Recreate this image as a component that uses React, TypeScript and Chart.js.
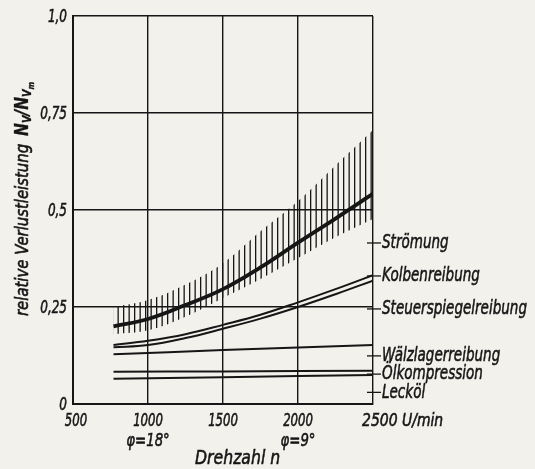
import React, { useEffect, useRef } from "react";
import { Chart, registerables } from "chart.js";

Chart.register(...registerables);

// ---- data ----
const speedTicks = [500, 1000, 1500, 2000, 2500];
const speedTickLabels = ["500", "1000", "1500", "2000", "2500 U/min"];
const angleLabels = ["", "φ=18°", "", "φ=9°", ""];
const lossTicks = [0, 0.25, 0.5, 0.75, 1.0];
const lossTickLabels = ["0", "0,25", "0,5", "0,75", "1,0"];

const curveSpeeds = [770, 1000, 1250, 1500, 1750, 2000, 2250, 2500];
const stroemung = [0.2, 0.219, 0.255, 0.296, 0.352, 0.416, 0.478, 0.542];
const stroemungUpper = [0.25, 0.268, 0.308, 0.363, 0.445, 0.523, 0.615, 0.706];
const stroemungLower = [0.18, 0.19, 0.225, 0.273, 0.322, 0.376, 0.43, 0.477];
const kolbenreibung = [0.152, 0.163, 0.18, 0.204, 0.23, 0.262, 0.296, 0.332];
const steuerspiegelreibung = [0.146, 0.152, 0.17, 0.194, 0.22, 0.25, 0.283, 0.318];

const lineSpeeds = [770, 1500, 2500];
const waelzlagerreibung = [0.128, 0.139, 0.152];
const oelkompression = [0.083, 0.084, 0.086];
const leckoel = [0.065, 0.069, 0.075];

const labelNames = ["Strömung", "Kolbenreibung", "Steuerspiegelreibung", "Wälzlagerreibung", "Ölkompression", "Lecköl"];
const labelValues = [0.415, 0.33, 0.245, 0.124, 0.077, 0.03];

const INK = "#161616";
const PAPER = "#f2f1ec";
const FONT = "'DejaVu Sans', sans-serif";
const STROKE = 0.6;

const pts = (xs: number[], ys: number[]) => xs.map((x, i) => ({ x, y: ys[i] }));

function makeHatch(): CanvasPattern | string {
  const c = document.createElement("canvas");
  c.width = 11;
  c.height = 4;
  const g = c.getContext("2d");
  if (!g) return INK;
  g.fillStyle = INK;
  g.fillRect(2, 0, 1.3, 4);
  g.fillRect(7.5, 0, 1.3, 4);
  const p = g.createPattern(c, "repeat");
  return p || INK;
}

// draw horizontally condensed, medium-weight text (lettering in the original is tall and narrow)
function drawText(
  ctx: CanvasRenderingContext2D,
  text: string,
  x: number,
  y: number,
  font: string,
  sx: number,
  align: "left" | "center" | "right"
) {
  ctx.save();
  ctx.font = font;
  ctx.textBaseline = "middle";
  ctx.textAlign = "left";
  const w = ctx.measureText(text).width * sx;
  let x0 = x;
  if (align === "center") x0 = x - w / 2;
  if (align === "right") x0 = x - w;
  ctx.translate(x0, y);
  ctx.scale(sx, 1);
  ctx.fillText(text, 0, 0);
  ctx.lineWidth = STROKE;
  ctx.strokeText(text, 0, 0);
  ctx.restore();
}

const paperPlugin = {
  id: "paper",
  beforeDraw(chart: any) {
    const ctx = chart.ctx;
    ctx.save();
    ctx.fillStyle = PAPER;
    ctx.fillRect(0, 0, chart.width, chart.height);
    ctx.restore();
  },
};

const textPlugin = {
  id: "texts",
  afterDraw(chart: any) {
    const { ctx } = chart;
    const x = chart.scales.x;
    const y = chart.scales.y;
    ctx.save();
    ctx.fillStyle = INK;
    ctx.strokeStyle = INK;

    // calibrate the horizontal squeeze so that the longest label spans ~145px
    ctx.font = `italic 20px ${FONT}`;
    const k = 145 / ctx.measureText("Steuerspiegelreibung").width / 0.75;

    const tickFont = `italic 18px ${FONT}`;
    // y tick labels
    lossTicks.forEach((v, i) => {
      drawText(ctx, lossTickLabels[i], x.left - 6, y.getPixelForValue(v) + 1, tickFont, 0.74 * k, "right");
    });

    // x tick labels
    speedTicks.forEach((v, i) => {
      const px = x.getPixelForValue(v);
      if (i === speedTicks.length - 1) {
        drawText(ctx, speedTickLabels[i], px - 11, y.bottom + 17, tickFont, 0.86 * k, "left");
      } else {
        drawText(ctx, speedTickLabels[i], px + (i === 0 ? 3 : 0), y.bottom + 17, tickFont, 0.72 * k, "center");
      }
      if (angleLabels[i]) {
        drawText(ctx, angleLabels[i], px, y.bottom + 37, tickFont, 0.82 * k, "center");
      }
    });

    // x title
    drawText(ctx, "Drehzahl n", 195, y.bottom + 55, `italic 20px ${FONT}`, 0.87 * k, "left");

    // curve labels with small leader ticks
    ctx.lineWidth = 1.3;
    labelNames.forEach((name, i) => {
      const py = y.getPixelForValue(labelValues[i]);
      ctx.beginPath();
      ctx.moveTo(x.right - 6, py);
      ctx.lineTo(x.right + 8, py);
      ctx.stroke();
      drawText(ctx, name, x.right + 9, py, `italic 20px ${FONT}`, 0.75 * k, "left");
    });

    // y title (rotated)
    ctx.translate(28, 316);
    ctx.rotate(-Math.PI / 2);
    ctx.textAlign = "left";
    ctx.textBaseline = "alphabetic";
    let cx = 0;
    const piece = (t: string, font: string, dy: number, sx: number, lw: number) => {
      ctx.save();
      ctx.font = font;
      ctx.translate(cx, dy);
      ctx.scale(sx, 1);
      ctx.fillText(t, 0, 0);
      ctx.lineWidth = lw;
      ctx.strokeText(t, 0, 0);
      ctx.restore();
      ctx.font = font;
      cx += ctx.measureText(t).width * sx;
    };
    piece("relative Verlustleistung", `italic 17px ${FONT}`, 0, 0.97 * k, STROKE);
    cx += 8;
    piece("N", `italic bold 19px ${FONT}`, 0, 0.9 * k, 0.3);
    piece("V", `italic bold 12px ${FONT}`, 3, 0.9 * k, 0.3);
    piece("/", `italic bold 19px ${FONT}`, 0, 0.9 * k, 0.3);
    piece("N", `italic bold 19px ${FONT}`, 0, 0.9 * k, 0.3);
    piece("V", `italic bold 12px ${FONT}`, 3, 0.9 * k, 0.3);
    piece("m", `italic bold 9px ${FONT}`, 6, 0.9 * k, 0.3);
    ctx.restore();
  },
};

export default function App() {
  const ref = useRef<HTMLCanvasElement | null>(null);

  useEffect(() => {
    if (!ref.current) return;
    const hatch = makeHatch();
    const common = { pointRadius: 0, borderColor: INK, fill: false, tension: 0.4 };
    const chart = new Chart(ref.current, {
      type: "line",
      data: {
        datasets: [
          {
            label: "Strömung Streubereich oben",
            data: pts(curveSpeeds, stroemungUpper),
            ...common,
            borderWidth: 0,
            borderColor: "rgba(0,0,0,0)",
            backgroundColor: hatch as any,
            fill: "+1",
          },
          {
            label: "Strömung Streubereich unten",
            data: pts(curveSpeeds, stroemungLower),
            ...common,
            borderWidth: 0,
            borderColor: "rgba(0,0,0,0)",
          },
          { label: "Strömung", data: pts(curveSpeeds, stroemung), ...common, borderWidth: 3.8 },
          { label: "Kolbenreibung", data: pts(curveSpeeds, kolbenreibung), ...common, borderWidth: 2 },
          { label: "Steuerspiegelreibung", data: pts(curveSpeeds, steuerspiegelreibung), ...common, borderWidth: 2 },
          { label: "Wälzlagerreibung", data: pts(lineSpeeds, waelzlagerreibung), ...common, borderWidth: 2 },
          { label: "Ölkompression", data: pts(lineSpeeds, oelkompression), ...common, borderWidth: 2 },
          { label: "Lecköl", data: pts(lineSpeeds, leckoel), ...common, borderWidth: 2 },
        ],
      },
      options: {
        responsive: false,
        animation: false,
        layout: { padding: { left: 73, right: 162, top: 16, bottom: 65 } },
        plugins: { legend: { display: false }, tooltip: { enabled: false } },
        scales: {
          x: {
            type: "linear",
            min: 500,
            max: 2500,
            ticks: { display: false, stepSize: 500 },
            grid: { color: INK, lineWidth: 1.4, drawTicks: false },
            border: { color: INK, width: 2 },
          },
          y: {
            min: 0,
            max: 1,
            ticks: { display: false, stepSize: 0.25 },
            grid: { color: INK, lineWidth: 1.4, drawTicks: false },
            border: { color: INK, width: 2 },
          },
        },
      },
      plugins: [paperPlugin, textPlugin],
    });
    return () => chart.destroy();
  }, []);

  return (
    <div style={{ position: "fixed", left: 0, top: 0, width: 535, height: 469, background: PAPER }}>
      <canvas ref={ref} width={535} height={469} style={{ display: "block" }} />
    </div>
  );
}
